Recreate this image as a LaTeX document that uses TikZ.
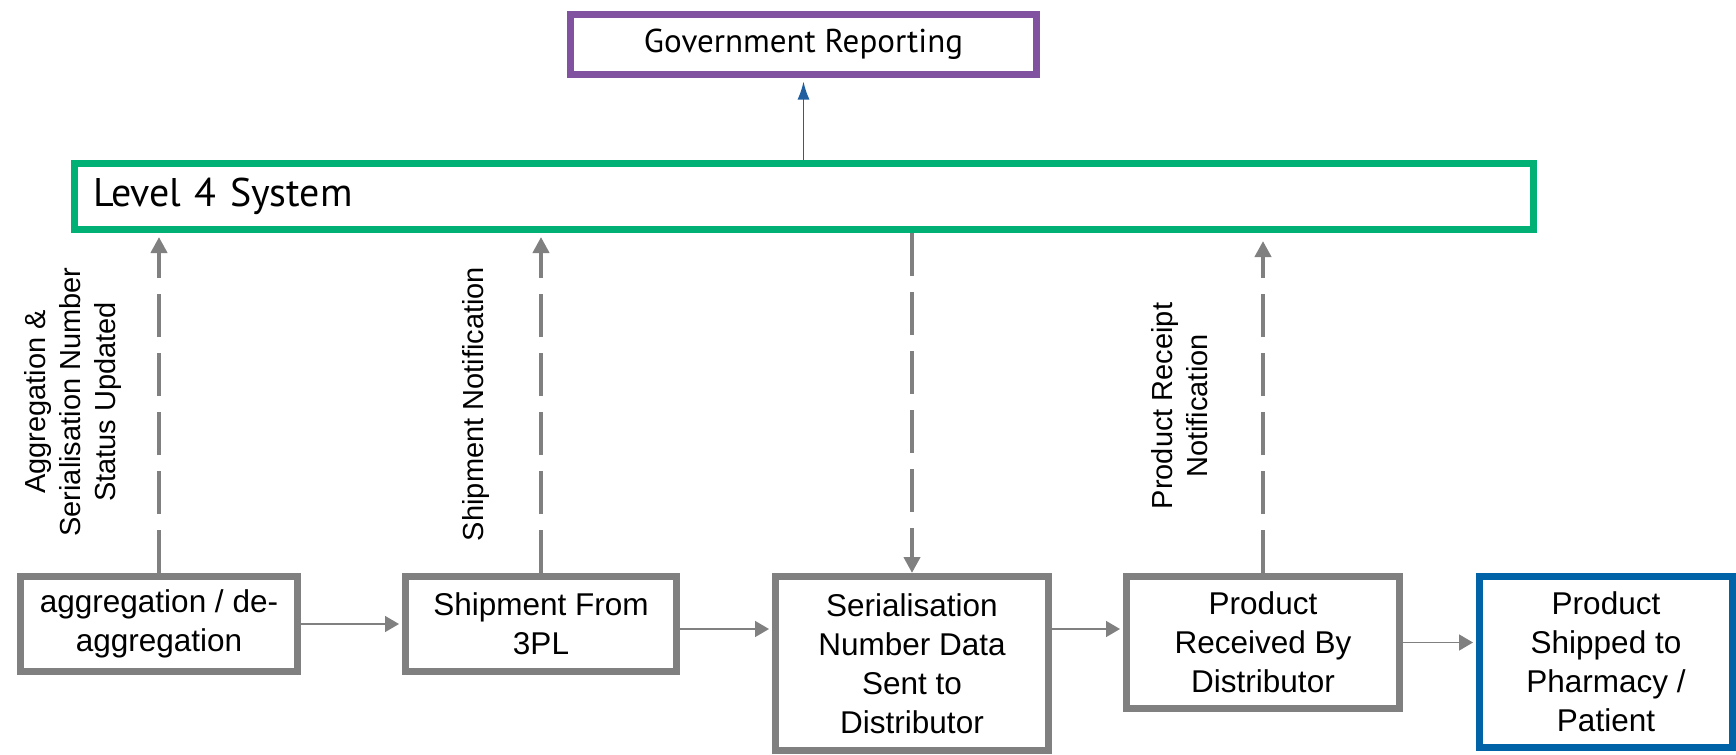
\documentclass[tikz,border=0pt]{standalone}
\usepackage{fontspec}
\setmainfont{Liberation Sans}
\newfontfamily\sysfont{PT Sans}
\usetikzlibrary{arrows.meta}
\definecolor{boxgray}{RGB}{128,128,128}
\definecolor{sysgreen}{RGB}{0,176,116}
\definecolor{govpurple}{RGB}{128,82,160}
\definecolor{shipblue}{RGB}{0,99,168}
\definecolor{govblue}{RGB}{31,95,160}
\tikzset{stepbox/.style={draw=boxgray,line width=3.5pt,fill=white,align=center,inner sep=0pt,font=\fontsize{15.75}{19.5}\selectfont}}
\tikzset{flowarrow/.style={draw=boxgray,line width=0.8pt,shorten >=1.5pt,-{Triangle[width=8pt,length=7pt]}}}
\tikzset{msgarrow/.style={draw=boxgray,line width=2.25pt,dash pattern=on 21.5pt off 8pt,-{Triangle[width=8pt,length=8pt]}}}
\tikzset{msglabel/.style={rotate=90,align=center,inner sep=0pt,font=\fontsize{14.5}{17.5}\selectfont}}

\begin{document}
\begin{tikzpicture}[x=0.5pt, y=-0.5pt]
				\useasboundingbox (0,0) rectangle (1736,755);
				%
				\node[draw=govpurple,line width=3.5pt,inner sep=0pt,minimum width=233pt,minimum height=30pt,font=\sysfont\fontsize{16.5}{20}\selectfont] (gov) at (803.5,44.5) {Government Reporting};
				\node[draw=sysgreen,line width=3.5pt,inner xsep=9.25pt,inner ysep=0pt,text width=711pt,minimum height=33pt,align=left,font=\sysfont\fontsize{20}{24}\selectfont] (sys) at (804,196.5) {Level 4 System};
				%
				\node[stepbox,minimum width=138.5pt,minimum height=47.5pt] (agg) at (159,624) {aggregation / de-\\aggregation};
				\node[stepbox,minimum width=135.5pt,minimum height=47.5pt] (ship) at (541,624) {Shipment From\\3PL};
				\node[stepbox,minimum width=136.5pt,minimum height=87pt] (ser) at (912,663.5) {Serialisation\\Number Data\\Sent to\\Distributor};
				\node[stepbox,minimum width=136.5pt,minimum height=66pt] (recv) at (1263,642.5) {Product\\Received By\\Distributor};
				\node[stepbox,draw=shipblue,minimum width=126.5pt,minimum height=85.5pt] (shipd) at (1606,662) {Product\\Shipped to\\Pharmacy /\\Patient};
				%
				\draw[flowarrow] (agg.east) -- (ship.west);
				\draw[flowarrow] ([yshift=-2.5pt]ship.east) -- ([yshift=-2.5pt]ship.east -| ser.west);
				\draw[flowarrow] ([yshift=6.75pt]recv.west -| ser.east) -- ([yshift=6.75pt]recv.west);
				\draw[flowarrow] (recv.east) -- (recv.east -| shipd.west);
				%
				\draw[msgarrow,shorten >=2pt] (agg.north) -- (agg.north |- sys.south);
				\draw[msgarrow,shorten >=2pt] (ship.north) -- (ship.north |- sys.south);
				\draw[msgarrow] (ser.north |- sys.south) -- (ser.north);
				\draw[msgarrow,shorten >=4pt] (recv.north) -- (recv.north |- sys.south);
				\draw[govblue,line width=0.8pt,shorten >=1.75pt,-{Latex[width=6pt,length=9pt]}] (gov.south |- sys.north) -- (gov.south);
				%
				\node[msglabel] (lab1) at (73,402) {Aggregation \&\\Serialisation Number\\Status Updated};
				\node[msglabel] (lab2) at (476,404) {Shipment Notification};
				\node[msglabel] (lab4) at (1180,406) {Product Receipt\\Notification};
			\end{tikzpicture}
\end{document}
